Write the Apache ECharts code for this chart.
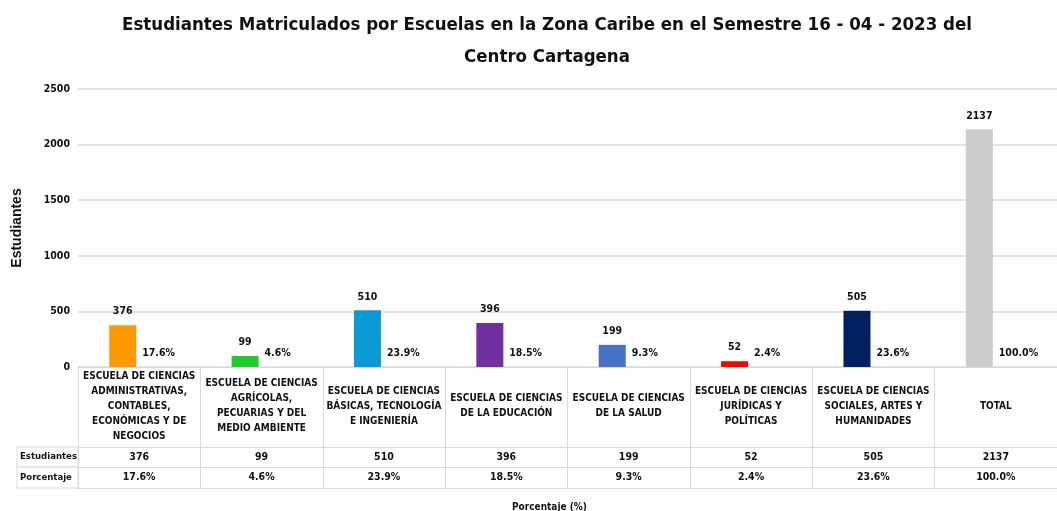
<!DOCTYPE html>
<html lang="es">
<head>
    <meta charset="UTF-8">
    <title>Estudiantes Matriculados</title>
    <script src="https://cdn.jsdelivr.net/npm/echarts@6/dist/echarts.min.js"></script>
    <style>
        html, body { margin: 0; padding: 0; background: #fff; }
        #main { width: 1057px; height: 511px; }
    </style>
</head>
<body>
<div id="main"></div>
<script type="text/javascript">
    // datos
    var escuelas = [
        'ESCUELA DE CIENCIAS\nADMINISTRATIVAS,\nCONTABLES,\nECONÓMICAS Y DE\nNEGOCIOS',
        'ESCUELA DE CIENCIAS\nAGRÍCOLAS,\nPECUARIAS Y DEL\nMEDIO AMBIENTE',
        'ESCUELA DE CIENCIAS\nBÁSICAS, TECNOLOGÍA\nE INGENIERÍA',
        'ESCUELA DE CIENCIAS\nDE LA EDUCACIÓN',
        'ESCUELA DE CIENCIAS\nDE LA SALUD',
        'ESCUELA DE CIENCIAS\nJURÍDICAS Y\nPOLÍTICAS',
        'ESCUELA DE CIENCIAS\nSOCIALES, ARTES Y\nHUMANIDADES',
        'TOTAL'
    ];
    var estudiantes = [376, 99, 510, 396, 199, 52, 505, 2137];
    var porcentaje = [17.6, 4.6, 23.9, 18.5, 9.3, 2.4, 23.6, 100.0];
    var colores = ['#ff9900', '#1fcc2c', '#0a9ad6', '#7030a0', '#4472c4', '#ff0000', '#002060', '#cccccc'];
    var yTicks = [0, 500, 1000, 1500, 2000, 2500];

    var fuente = '"DejaVu Sans Condensed", "Liberation Sans Narrow", sans-serif';
    var borde = '#d9d9d9';

    var myChart = echarts.init(document.getElementById('main'));

    function pct(v) {
        return v.toFixed(1) + '%';
    }

    // filas de la tabla debajo del eje
    function filaTabla(datos, offset, alto) {
        return {
            type: 'category',
            position: 'bottom',
            offset: offset,
            data: datos,
            axisLine: { show: true, lineStyle: { color: borde } },
            axisTick: { show: true, length: alto, lineStyle: { color: borde } },
            axisLabel: {
                interval: 0, margin: alto / 2, verticalAlign: 'middle',
                fontFamily: fuente, fontWeight: 'bold', fontSize: 10.5, color: '#111'
            }
        };
    }

    var option = {
        animation: false,
        title: [{
            text: 'Estudiantes Matriculados por Escuelas en la Zona Caribe en el Semestre 16 - 04 - 2023 del\nCentro Cartagena',
            left: 542,
            top: 4,
            textAlign: 'center',
            textStyle: { fontFamily: fuente, fontWeight: 'bold', fontSize: 18.5, lineHeight: 32, color: '#111' }
        }, {
            text: 'Porcentaje (%)',
            left: 507,
            top: 497,
            textStyle: { fontFamily: fuente, fontWeight: 'bold', fontSize: 10, color: '#111' }
        }],
        grid: { left: 78, top: 89, width: 992, height: 278 },
        xAxis: [{
            type: 'category',
            position: 'bottom',
            data: escuelas,
            axisLine: { show: true, lineStyle: { color: borde } },
            axisTick: { show: true, length: 80, lineStyle: { color: borde } },
            axisLabel: {
                interval: 0, margin: 39, verticalAlign: 'middle', lineHeight: 15,
                fontFamily: fuente, fontWeight: 'bold', fontSize: 10, color: '#111'
            }
        },
            filaTabla(estudiantes.map(String), 80, 20),
            filaTabla(porcentaje.map(pct), 100, 21),
            {
                type: 'category', position: 'bottom', offset: 121, data: escuelas,
                axisLine: { show: true, lineStyle: { color: borde } },
                axisTick: { show: false }, axisLabel: { show: false }
            }],
        yAxis: {
            type: 'value',
            min: 0,
            max: 2500,
            interval: 500,
            name: 'Estudiantes',
            nameLocation: 'middle',
            nameGap: 54,
            nameTextStyle: { fontFamily: 'Liberation Sans, Arial, sans-serif', fontWeight: 'bold', fontSize: 14, color: '#111' },
            axisLine: { show: false },
            axisTick: { show: false },
            splitLine: { lineStyle: { color: borde, width: 1.5 } },
            axisLabel: {
                margin: 8, fontFamily: fuente, fontWeight: 'bold', fontSize: 10.5, color: '#111',
                formatter: function (v) { return yTicks.indexOf(v) >= 0 ? v : ''; }
            }
        },
        series: [{
            name: 'Estudiantes',
            type: 'bar',
            barWidth: 27,
            barGap: '22%',
            data: estudiantes.map(function (v, i) {
                return { value: v, itemStyle: { color: colores[i] } };
            }),
            label: {
                show: true, position: 'top', distance: 8,
                fontFamily: fuente, fontWeight: 'bold', fontSize: 10.5, color: '#111'
            }
        }, {
            name: 'Porcentaje',
            type: 'bar',
            barWidth: 27,
            data: porcentaje,
            itemStyle: { color: 'rgba(0,0,0,0)' },
            label: {
                show: true, position: ['0%', '100%'], offset: [0, -8],
                align: 'left', verticalAlign: 'bottom',
                fontFamily: fuente, fontWeight: 'bold', fontSize: 10.5, color: '#111',
                formatter: function (p) { return pct(p.value); }
            }
        }],
        graphic: [
            { type: 'rect', shape: { x: 17, y: 447, width: 61, height: 20 }, style: { fill: '#fff', stroke: borde } },
            { type: 'rect', shape: { x: 17, y: 467, width: 61, height: 21 }, style: { fill: '#fff', stroke: borde } },
            { type: 'text', x: 20, y: 457, style: { text: 'Estudiantes', fontFamily: fuente, fontWeight: 'bold', fontSize: 9.5, fill: '#111', verticalAlign: 'middle' } },
            { type: 'text', x: 20, y: 477.5, style: { text: 'Porcentaje', fontFamily: fuente, fontWeight: 'bold', fontSize: 9.5, fill: '#111', verticalAlign: 'middle' } }
        ]
    };

    myChart.setOption(option);
</script>
</body>
</html>
